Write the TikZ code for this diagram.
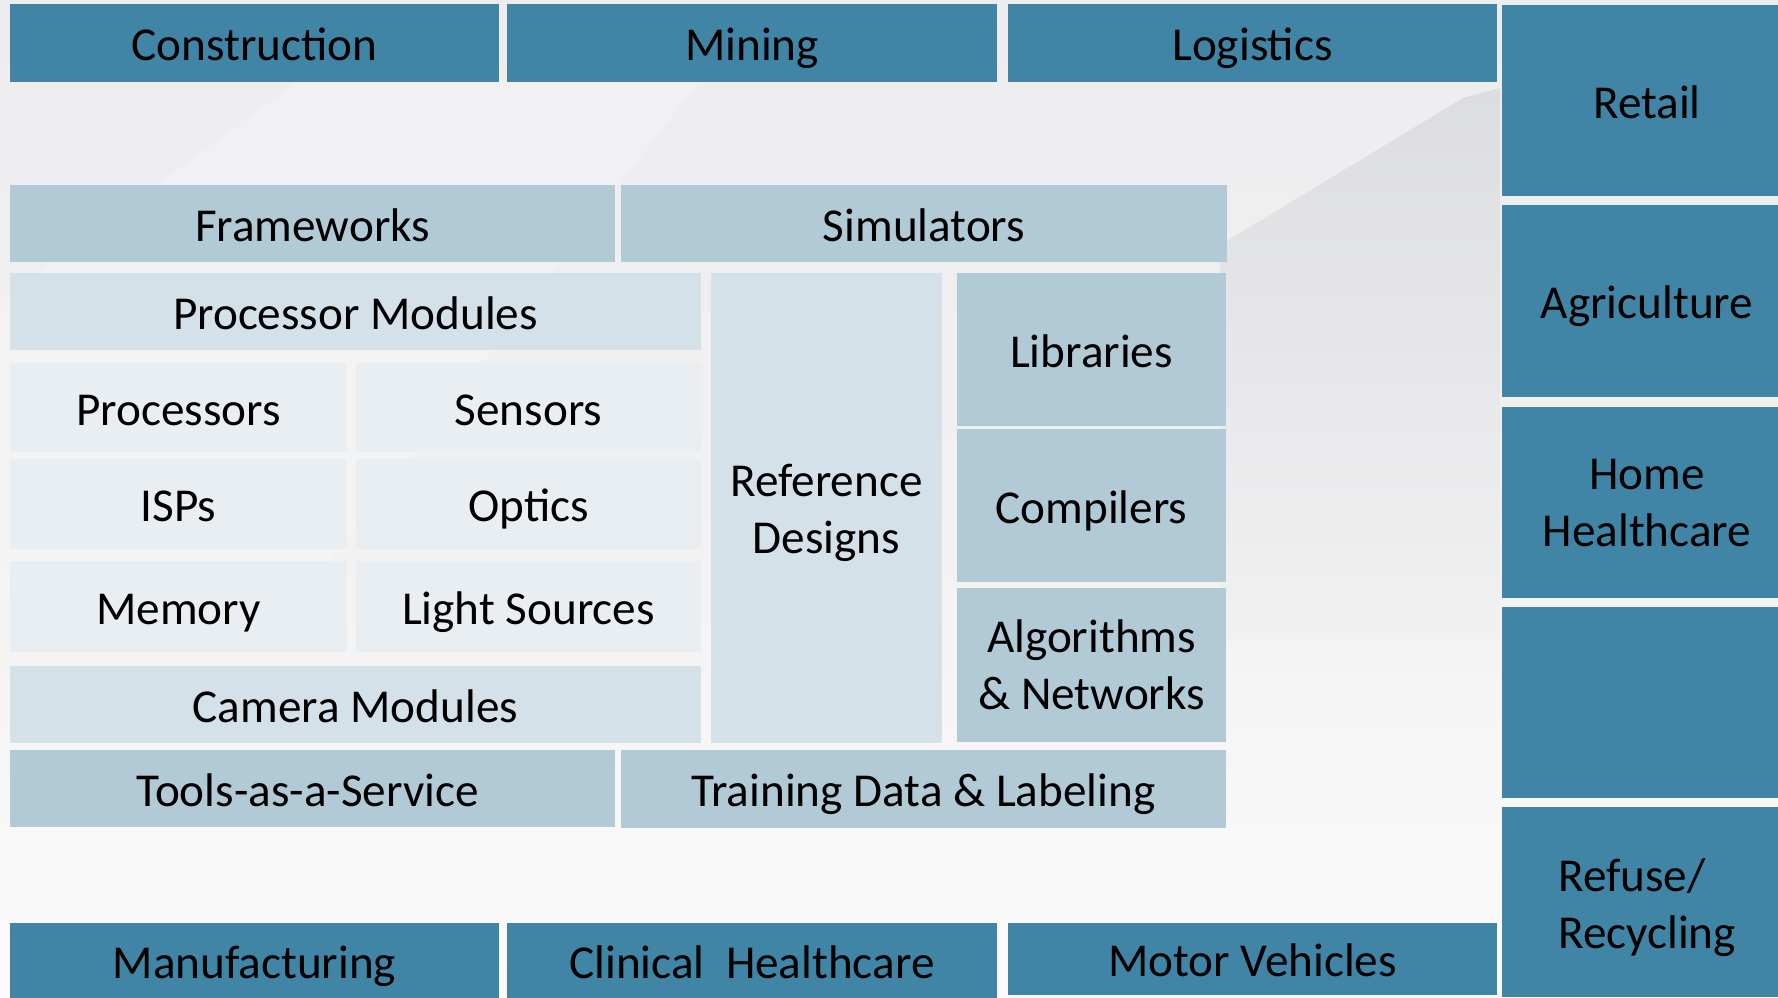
\documentclass[tikz,border=0pt]{standalone}
\usepackage{fontspec}
\setmainfont{Carlito}
\definecolor{bgtop}{HTML}{EDEDEF}
\definecolor{bgmid}{HTML}{F1F1F2}
\definecolor{bgbot}{HTML}{FBFBFB}
\definecolor{teal}{HTML}{4085A5}
\definecolor{midblue}{HTML}{B1CAD6}
\definecolor{lightblue}{HTML}{D4E1E8}
\definecolor{palest}{HTML}{E9EEF2}
\definecolor{shadow}{HTML}{DCDDE0}
\newcommand\mystrut{\vrule width 0pt height 23pt depth 5.1pt\relax}
\newcommand\mystrutB{\vrule width 0pt height 26.4pt depth 5.1pt\relax}
\tikzset{
  blkbase/.style={inner sep=0pt, outer sep=0pt, draw=none, align=center,
    font=\fontsize{23.6}{28.5}\selectfont, text=black,
    execute at begin node=\mystrut, execute at end node=\mystrut},
  twoline/.style={blkbase, execute at begin node=\mystrutB},
  industry/.style={blkbase, fill=teal},
  toolbox/.style={blkbase, fill=midblue},
  modbox/.style={blkbase, fill=lightblue},
  partbox/.style={blkbase, fill=palest},
}
\newcommand\blk[7]{\node[#6, minimum width={(#4-#2)*0.5pt}, minimum height={(#5-#3)*0.5pt}] (#1) at ({(#2+#4)/2},{(#3+#5)/2}) {#7};}
\begin{document}
\begin{tikzpicture}[x=0.5pt,y=-0.5pt]
\useasboundingbox (0,0) rectangle (1778,997);
\clip (0,0) rectangle (1778,997);
% background
\shade[top color=bgtop, bottom color=bgbot, middle color=bgmid] (0,0) rectangle (1778,997);
\shade[top color=shadow, bottom color=bgmid] (1500,88) -- (1463,98) -- (1220,245) -- (1220,640) -- (1500,640) -- cycle;
\fill[white, opacity=0.2] (0,300) -- (300,80) -- (700,80) -- (330,560) -- (0,600) -- cycle;
% top industries
\blk{constr}{10}{4}{499}{82}{industry}{Construction}
\blk{mining}{507}{4}{997}{82}{industry}{Mining}
\blk{logist}{1008}{4}{1497}{82}{industry}{Logistics}
% right column
\blk{retail}{1502}{5}{1792}{196}{industry}{Retail}
\blk{agri}{1502}{205}{1792}{397}{industry}{Agriculture}
\blk{homehc}{1502}{407}{1792}{598}{industry}{}
\node[twoline, yshift=-2.8pt] (homehc-t) at (homehc.center) {Home\\Healthcare};
\blk{blank}{1502}{607}{1792}{798}{industry}{}
\blk{refuse}{1502}{807}{1792}{997}{industry}{}
\node[twoline, align=left, yshift=-3.3pt] (refuse-t) at (refuse.center) {Refuse/\\Recycling};
% bottom industries
\blk{manuf}{10}{923}{499}{999}{industry}{Manufacturing}
\blk{clinic}{507}{923}{997}{999}{industry}{Clinical\ \ Healthcare}
\blk{motor}{1008}{923}{1497}{995}{industry}{Motor Vehicles}
% tools
\blk{frame}{10}{185}{615}{262}{toolbox}{Frameworks}
\blk{simul}{621}{185}{1227}{262}{toolbox}{Simulators}
\blk{procmod}{10}{273}{701}{350}{modbox}{Processor Modules}
\blk{procs}{10}{363}{347}{452}{partbox}{Processors}
\blk{sens}{356}{363}{701}{452}{partbox}{Sensors}
\blk{isps}{10}{459}{347}{549}{partbox}{ISPs}
\blk{optics}{356}{459}{701}{549}{partbox}{Optics}
\blk{memory}{10}{561}{347}{652}{partbox}{Memory}
\blk{light}{356}{561}{701}{652}{partbox}{Light Sources}
\blk{cammod}{10}{666}{701}{743}{modbox}{Camera Modules}
\blk{refdes}{711}{273}{942}{743}{modbox}{}
\node[twoline, yshift=-2.8pt] (refdes-t) at (refdes.center) {Reference\\Designs};
\blk{libs}{957}{273}{1226}{426}{toolbox}{Libraries}
\blk{comp}{957}{429}{1226}{582}{toolbox}{Compilers}
\blk{algo}{957}{588}{1226}{742}{toolbox}{}
\node[twoline, yshift=-2.2pt] (algo-t) at (algo.center) {Algorithms\\\& Networks};
\blk{taas}{10}{750}{615}{827}{toolbox}{Tools-as-a-Service\hspace*{5pt}}
\blk{train}{621}{750}{1226}{828}{toolbox}{Training Data \& Labeling}
\end{tikzpicture}
\end{document}
